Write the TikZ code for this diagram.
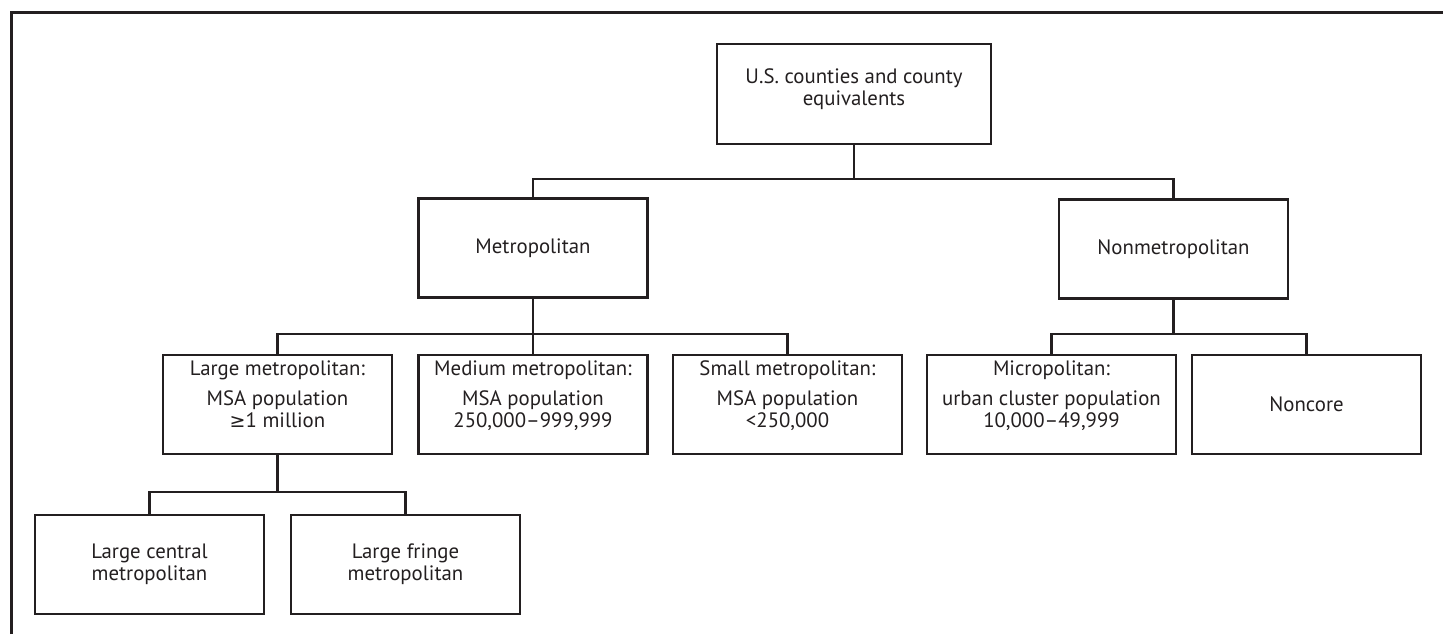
\documentclass[tikz,border=0pt]{standalone}
\usepackage{fontspec}
\setmainfont{PT Sans}
\newfontfamily\symfont{DejaVu Sans}
\definecolor{ink}{HTML}{231F20}

\begin{document}
\begin{tikzpicture}[x=0.5pt, y=-0.5pt, font=\fontsize{10.4}{11}\selectfont,
  box/.style={draw=ink, text=ink, line width=1.2pt, rectangle, align=center, minimum width=114.5pt, minimum height=49.5pt, inner sep=2pt},
  link/.style={draw=ink, line width=1.2pt}]
  \useasboundingbox (0,0) rectangle (1443,634);
  % frame of the figure
  \draw[ink, line width=1.5pt] (11,634) -- (11,12) -- (1443,12);
  \node[box, minimum width=137pt, minimum height=50pt] (counties) at (854,94) {U.S. counties and county\\equivalents\\[-4.5pt]};
  \node[box] (metro) at (533,248) {Metropolitan};
  \node[box] (nonmetro) at (1173.5,249) {Nonmetropolitan};
  \node[box] (large) at (277.5,404.5) {Large metropolitan:\\[4pt]MSA population\\{\symfont\fontsize{9.5}{11}\selectfont ≥}1 million\\[-0.5pt]};
  \node[box] (medium) at (533,404.5) {Medium metropolitan:\\[4pt]MSA population\\250,000--999,999\\[-0.5pt]};
  \node[box] (small) at (787.5,404.5) {Small metropolitan:\\[4pt]MSA population\\<250,000\\[-0.5pt]};
  \node[box, minimum width=124.5pt] (micro) at (1051.5,404.5) {Micropolitan:\\[4pt]urban cluster population\\10,000--49,999\\[-0.5pt]};
  \node[box] (noncore) at (1306.5,404.5) {Noncore};
  \node[box] (central) at (149.5,564.5) {Large central\\metropolitan};
  \node[box] (fringe) at (405.5,564.5) {Large fringe\\metropolitan};
  % Draw the tree links
  \draw[link] (counties.south) -- ++(0,34) -| (metro.north);
  \draw[link] (counties.south) -- ++(0,34) -| (nonmetro.north);
  \draw[link] (metro.south) -- ++(0,35) -| (large.north);
  \draw[link] (metro.south) -- (medium.north);
  \draw[link] (metro.south) -- ++(0,35) -| (small.north);
  \draw[link] (nonmetro.south) -- ++(0,34) -| (micro.north);
  \draw[link] (nonmetro.south) -- ++(0,34) -| (noncore.north);
  \draw[link] (large.south) -- ++(0,37) -| (central.north);
  \draw[link] (large.south) -- ++(0,37) -| (fringe.north);
\end{tikzpicture}
\end{document}
